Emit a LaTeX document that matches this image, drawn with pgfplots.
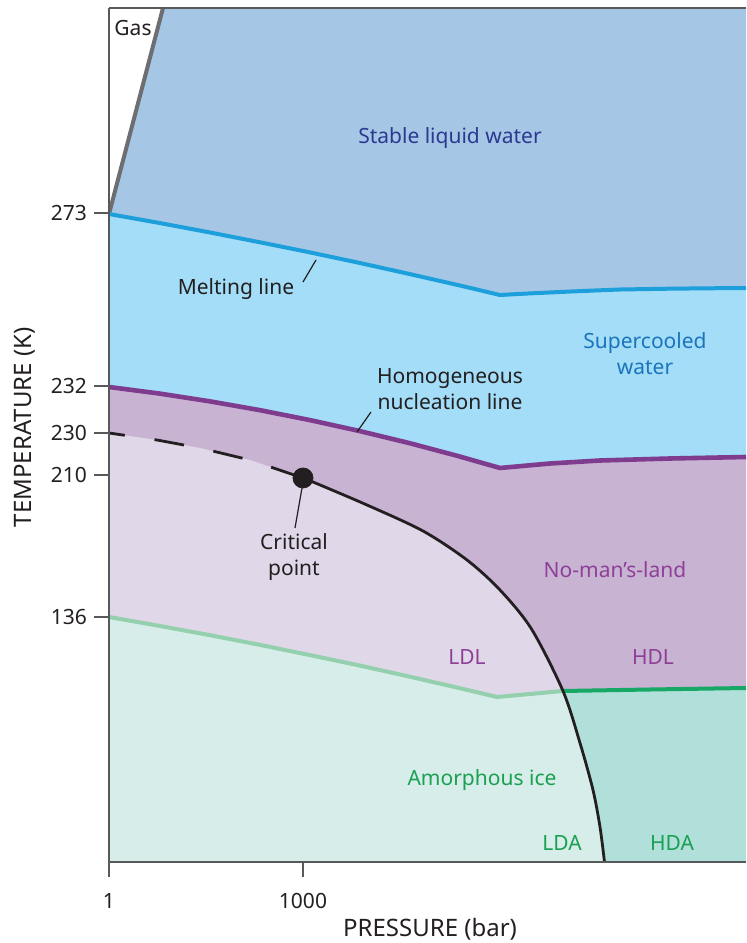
\documentclass[border=0pt]{standalone}
\usepackage{fontspec}
\setmainfont{Noto Sans}
\usepackage{pgfplots}
\pgfplotsset{compat=1.18}
\usetikzlibrary{calc}
\definecolor{stable}{HTML}{A5C6E5}
\definecolor{supercool}{HTML}{A3DDF8}
\definecolor{nml}{HTML}{C8B3D3}
\definecolor{ldl}{HTML}{E0D7E8}
\definecolor{amorph}{HTML}{D7EDE9}
\definecolor{hda}{HTML}{B1DFDA}
\definecolor{meltblue}{HTML}{1D9FDB}
\definecolor{nucpurple}{HTML}{7F3B8E}
\definecolor{greenlight}{HTML}{94D0AE}
\definecolor{greendark}{HTML}{17A865}
\definecolor{gasgray}{HTML}{6D6E71}
\definecolor{axisgray}{HTML}{58595B}
\definecolor{textdark}{HTML}{231F20}
\definecolor{textblue}{HTML}{2B3990}
\definecolor{textsc}{HTML}{1B75BC}
\definecolor{textpurple}{HTML}{8E3F97}
\definecolor{textgreen}{HTML}{1AA052}
\begin{document}
\begin{tikzpicture}
\begin{axis}[
  scale only axis, width=318.5pt, height=427pt,
  xmin=0, xmax=637, ymin=0, ymax=854,
  axis lines*=left, axis on top,
  axis line style={draw=axisgray, line width=1pt},
  xtick={0,194}, xticklabels={1,1000},
  ytick={245,387,429,476,649}, yticklabels={136,210,230,232,273},
  tick align=outside, major tick length=7.5pt,
  tick style={draw=axisgray, line width=0.8pt},
  /pgf/number format/assume math mode=true,
  ticklabel style={font=\fontsize{10.5}{12}\selectfont, text=textdark},
  xticklabel style={yshift=-4.5pt},
  xlabel={PRESSURE (bar)}, ylabel={TEMPERATURE (K)},
  label style={font=\fontsize{12}{14}\selectfont, text=textdark},
  xlabel style={at={(axis description cs:0.504,-0.079)}, anchor=center},
  ylabel style={at={(axis description cs:-0.132,0.509)}, anchor=center},
  every node/.append style={text=textdark},
]
% fills
\addplot[fill=stable, draw=none] coordinates {(0,648)(54,854)(637,854)(637,574)(600,573.7)(561,573.3)(511,572.5)(481,571.3)(451,570)(421,568.6)(391,567)(350,576.7)(300,588.1)(250,599.2)(200,609.8)(150,619.9)(100,629.7)(50,639.1)(0,648)};
\addplot[fill=supercool, draw=none] coordinates {(0,648)(50,639.1)(100,629.7)(150,619.9)(200,609.8)(250,599.2)(300,588.1)(350,576.7)(391,567)(421,568.6)(451,570)(481,571.3)(511,572.5)(561,573.3)(600,573.7)(637,574)(637,405)(561,403.5)(491,401.5)(441,398.5)(391,394)(350,405.7)(300,419)(250,431.1)(200,442.1)(150,452)(100,460.8)(50,468.5)(0,475)};
\addplot[fill=nml, draw=none] coordinates {(0,475)(50,468.5)(100,460.8)(150,452)(200,442.1)(250,431.1)(300,419)(350,405.7)(391,394)(441,398.5)(491,401.5)(561,403.5)(637,405)(637,174)(541,172.5)(454,171)(388,165)(350,174)(300,185.5)(250,196.6)(200,207.1)(150,217.3)(100,227)(50,236.2)(0,245)};
\addplot[fill=ldl, draw=none] coordinates {(0,429)(48,422)(91,414)(141,402)(194,384)(204,380)(258,357)(314,331)(358,302)(391,272)(422.5,233)(454,171)(388,165)(350,174)(300,185.5)(250,196.6)(200,207.1)(150,217.3)(100,227)(50,236.2)(0,245)};
\addplot[fill=amorph, draw=none] coordinates {(0,245)(50,236.2)(100,227)(150,217.3)(200,207.1)(250,196.6)(300,185.5)(350,174)(388,165)(454,171)(471,119)(484,72)(491,35)(495.5,0)(0,0)};
\addplot[fill=hda, draw=none] coordinates {(454,171)(541,172.5)(637,174)(637,0)(495.5,0)(491,35)(484,72)(471,119)(454,171)};
% lines
\addplot[gasgray, line width=2pt] coordinates {(0,648)(54,854)};
\addplot[meltblue, line width=2pt, line join=round] coordinates {(0,648)(50,639.1)(100,629.7)(150,619.9)(200,609.8)(250,599.2)(300,588.1)(350,576.7)(391,567)(421,568.6)(451,570)(481,571.3)(511,572.5)(561,573.3)(600,573.7)(637,574)};
\addplot[nucpurple, line width=2.3pt, line join=round] coordinates {(0,475)(50,468.5)(100,460.8)(150,452)(200,442.1)(250,431.1)(300,419)(350,405.7)(391,394)(441,398.5)(491,401.5)(561,403.5)(637,405)};
\addplot[greenlight, line width=2pt, line join=round] coordinates {(0,245)(50,236.2)(100,227)(150,217.3)(200,207.1)(250,196.6)(300,185.5)(350,174)(388,165)(454,171)};
\addplot[greendark, line width=2pt, line join=round] coordinates {(454,171)(541,172.5)(637,174)};
\addplot[textdark, line width=1.4pt, dash pattern=on 15pt off 15pt, dash phase=7pt] coordinates {(0,429)(48,422)(91,414)(141,402)(194,384)};
\addplot[textdark, line width=1.4pt, line join=round, smooth, tension=0.5] coordinates {(194,384)(204,380)(258,357)(314,331)(358,302)(391,272)(422.5,233)(454,171)(471,119)(484,72)(491,35)(495.5,0)};
% leaders
\addplot[textdark, line width=0.6pt] coordinates {(194,580)(207,602)};
\addplot[textdark, line width=0.6pt] coordinates {(248,430)(262,450)};
\addplot[textdark, line width=0.6pt] coordinates {(193,374)(186,334)};
\addplot[only marks, mark=*, mark size=5pt, mark options={fill=textdark, draw=textdark}] coordinates {(194,384)};
% labels
\begin{scope}[every node/.style={font=\fontsize{10.5}{13}\selectfont, align=center}]
\node[text=textdark] at (24,834) {Gas};
\node[text=textblue] at (341,724) {Stable liquid water};
\node[text=textdark] at (127,573) {Melting line};
\node[text=textsc] at (536,508) {Supercooled\\water};
\node[text=textdark] at (341,473) {Homogeneous\\nucleation line};
\node[text=textdark] at (185,305) {Critical\\point};
\node[text=textpurple] at (506,292) {No-man’s-land};
\node[text=textpurple] at (358,205) {LDL};
\node[text=textpurple] at (544,205) {HDL};
\node[text=textgreen] at (373,82) {Amorphous ice};
\node[text=textgreen] at (453,19) {LDA};
\node[text=textgreen] at (563,19) {HDA};
\end{scope}
\coordinate (BL) at (rel axis cs:0,0);
\coordinate (TL) at (rel axis cs:0,1);
\coordinate (TR) at (rel axis cs:1,1);
\end{axis}
\draw[axisgray, line width=1pt] (TL) -- (TR);
\pgfresetboundingbox
\path[use as bounding box] ($(BL)+(-54.5pt,-40.5pt)$) rectangle ($(TR)+(0pt,4pt)$);
\end{tikzpicture}
\end{document}
